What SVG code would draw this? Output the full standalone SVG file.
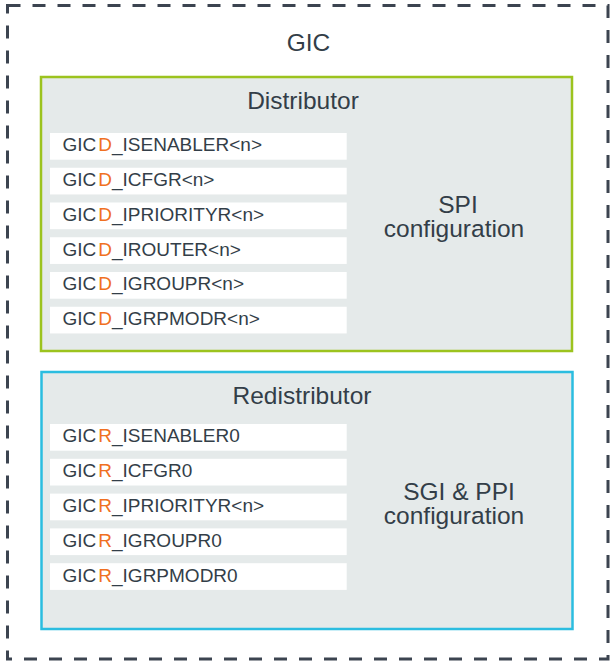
<svg xmlns="http://www.w3.org/2000/svg" width="616" height="666" viewBox="0 0 616 666">
<style>
.t{font-family:"Liberation Sans",Arial,sans-serif;fill:#333e48}
.big{font-size:24.5px;text-anchor:middle}
.reg{font-size:19px}
.hl{fill:#f07021}
.row{fill:#ffffff}
</style>
<rect width="616" height="666" fill="#ffffff"/>
<g id="gic">
<rect x="7.5" y="5.5" width="600.5" height="653.5" fill="none" stroke="#3c4450" stroke-width="3" stroke-dasharray="13 12"/>
<text class="t big" x="308.5" y="51">GIC</text>
</g>
<g id="distributor">
<rect x="41" y="77" width="531" height="274" fill="#e5eaea" stroke="#9cc31e" stroke-width="2.5"/>
<text class="t big" x="303" y="109.3">Distributor</text>
<rect class="row" x="50" y="133" width="296.7" height="26.7"/>
<rect class="row" x="50" y="167.75" width="296.7" height="26.7"/>
<rect class="row" x="50" y="202.5" width="296.7" height="26.7"/>
<rect class="row" x="50" y="237.25" width="296.7" height="26.7"/>
<rect class="row" x="50" y="272" width="296.7" height="26.7"/>
<rect class="row" x="50" y="306.75" width="296.7" height="26.7"/>
<text class="t reg" x="62.5" y="151.3">GIC<tspan class="hl" dx="2">D</tspan>_ISENABLER&lt;n&gt;</text>
<text class="t reg" x="62.5" y="186">GIC<tspan class="hl" dx="2">D</tspan>_ICFGR&lt;n&gt;</text>
<text class="t reg" x="62.5" y="220.8">GIC<tspan class="hl" dx="2">D</tspan>_IPRIORITYR&lt;n&gt;</text>
<text class="t reg" x="62.5" y="255.5">GIC<tspan class="hl" dx="2">D</tspan>_IROUTER&lt;n&gt;</text>
<text class="t reg" x="62.5" y="290.3">GIC<tspan class="hl" dx="2">D</tspan>_IGROUPR&lt;n&gt;</text>
<text class="t reg" x="62.5" y="325">GIC<tspan class="hl" dx="2">D</tspan>_IGRPMODR&lt;n&gt;</text>
<text class="t big" x="458" y="212.5">SPI</text>
<text class="t big" x="454" y="237.3">configuration</text>
</g>
<g id="redistributor">
<rect x="41.5" y="372" width="531" height="257" fill="#e5eaea" stroke="#2bbde0" stroke-width="2.5"/>
<text class="t big" x="302" y="404.3">Redistributor</text>
<rect class="row" x="50" y="424" width="296.7" height="26.7"/>
<rect class="row" x="50" y="458.8" width="296.7" height="26.7"/>
<rect class="row" x="50" y="493.6" width="296.7" height="26.7"/>
<rect class="row" x="50" y="528.4" width="296.7" height="26.7"/>
<rect class="row" x="50" y="563.2" width="296.7" height="26.7"/>
<text class="t reg" x="62.5" y="442.3">GIC<tspan class="hl" dx="2">R</tspan>_ISENABLER0</text>
<text class="t reg" x="62.5" y="477.1">GIC<tspan class="hl" dx="2">R</tspan>_ICFGR0</text>
<text class="t reg" x="62.5" y="511.9">GIC<tspan class="hl" dx="2">R</tspan>_IPRIORITYR&lt;n&gt;</text>
<text class="t reg" x="62.5" y="546.7">GIC<tspan class="hl" dx="2">R</tspan>_IGROUPR0</text>
<text class="t reg" x="62.5" y="581.5">GIC<tspan class="hl" dx="2">R</tspan>_IGRPMODR0</text>
<text class="t big" x="459" y="500">SGI &amp; PPI</text>
<text class="t big" x="454" y="524">configuration</text>
</g>
<g id="connectors"/>
</svg>
